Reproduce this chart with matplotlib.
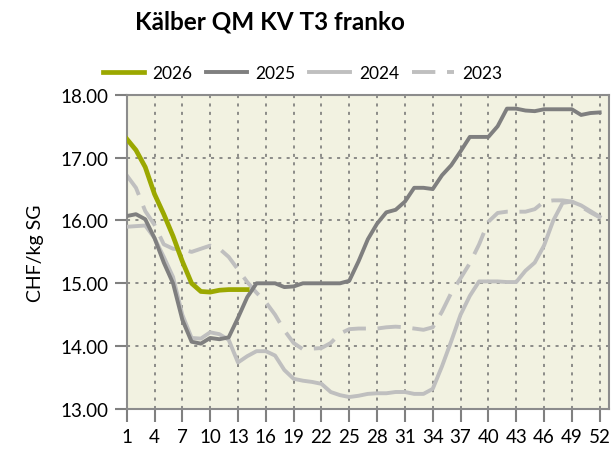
import matplotlib
matplotlib.use("Agg")
import matplotlib.pyplot as plt
import numpy as np

plt.rcParams['font.family'] = ['Lato', 'DejaVu Sans']

# Kalenderwochen
weeks = np.arange(1, 53)

# Preise CHF/kg SG
y2026 = [17.30, 17.12, 16.85, 16.42, 16.10, 15.75, 15.35, 15.00, 14.87, 14.86,
         14.89, 14.90, 14.90, 14.90]
y2025 = [16.07, 16.10, 16.02, 15.72, 15.33, 15.00, 14.42, 14.07, 14.04, 14.13,
         14.11, 14.14, 14.45, 14.78, 15.00, 15.00, 15.00, 14.94, 14.95, 15.00,
         15.00, 15.00, 15.00, 15.00, 15.04, 15.35, 15.70, 15.95, 16.13, 16.17,
         16.30, 16.52, 16.52, 16.50, 16.72, 16.88, 17.10, 17.33, 17.33, 17.33,
         17.50, 17.78, 17.78, 17.75, 17.74, 17.77, 17.77, 17.77, 17.77, 17.68,
         17.71, 17.72]
y2024 = [15.90, 15.91, 15.92, 15.72, 15.42, 15.10, 14.50, 14.13, 14.12, 14.22,
         14.19, 14.10, 13.74, 13.84, 13.92, 13.92, 13.85, 13.62, 13.48, 13.45,
         13.43, 13.40, 13.27, 13.22, 13.19, 13.21, 13.24, 13.25, 13.25, 13.27,
         13.27, 13.24, 13.24, 13.32, 13.68, 14.08, 14.50, 14.80, 15.03, 15.03,
         15.03, 15.02, 15.02, 15.20, 15.33, 15.60, 16.00, 16.28, 16.30, 16.24,
         16.15, 16.06]
y2023 = [16.72, 16.52, 16.15, 15.93, 15.62, 15.55, 15.54, 15.50, 15.55, 15.60,
         15.55, 15.42, 15.22, 15.02, 14.85, 14.70, 14.50, 14.25, 14.05, 13.95,
         13.96, 13.97, 14.05, 14.20, 14.27, 14.28, 14.28, 14.28, 14.30, 14.31,
         14.30, 14.28, 14.26, 14.30, 14.55, 14.85, 15.08, 15.32, 15.62, 15.98,
         16.12, 16.14, 16.14, 16.14, 16.18, 16.30, 16.32, 16.32, 16.30, 16.22,
         16.13, 16.05]

fig = plt.figure(figsize=(6.12, 4.52), dpi=100)
ax = fig.add_axes([0.207, 0.093, 0.788, 0.695])
ax.set_facecolor('#F2F2E1')

ax.plot(weeks, y2023, color='#BFBFBF', lw=2.8, dashes=(6, 3), label='2023', zorder=2)
ax.plot(weeks, y2024, color='#BFBFBF', lw=2.8, label='2024', zorder=3)
ax.plot(weeks, y2025, color='#7F7F7F', lw=2.8, label='2025', zorder=4)
ax.plot(weeks[:len(y2026)], y2026, color='#9BA800', lw=3.4, label='2026', zorder=5)

ax.set_xlim(1, 53)
ax.set_ylim(13, 18)
ax.set_xticks(np.arange(1, 53, 3))
ax.set_yticks(np.arange(13, 18.5, 1))
ax.set_yticklabels([f'{v:.2f}' for v in np.arange(13, 18.5, 1)])
ax.tick_params(axis='both', labelsize=13.5, length=9, width=1.5, color='#808080',
               direction='out', pad=4)
ax.tick_params(axis='x', pad=5)
ax.grid(True, color='#707070', linestyle=(0, (2, 3.5)), linewidth=1.1)
for s in ax.spines.values():
    s.set_color('#8C8C8C')
    s.set_linewidth(1.5)

ax.set_ylabel('CHF/kg SG', fontsize=14, labelpad=12)

fig.text(0.441, 0.951, 'Kälber QM KV T3 franko', fontsize=17.5,
         fontweight='bold', ha='center', va='center')

# Legende in der Reihenfolge 2026, 2025, 2024, 2023
h, l = ax.get_legend_handles_labels()
order = [3, 2, 1, 0]
fig.legend([h[i] for i in order], [l[i] for i in order], loc='center',
           bbox_to_anchor=(0.494, 0.836), ncol=4, frameon=False, fontsize=12.5,
           handlelength=2.4, handletextpad=0.48, columnspacing=0.75)

fig.savefig('out.png', dpi=100)
